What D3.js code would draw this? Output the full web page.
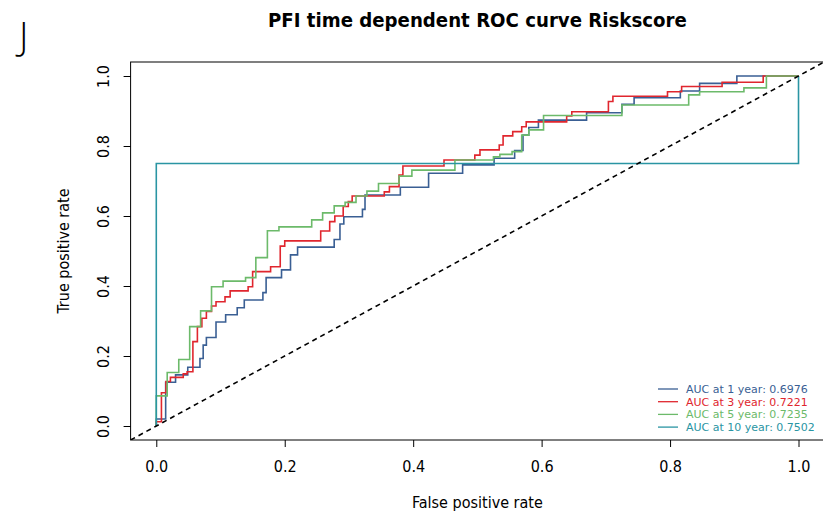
<!DOCTYPE html>
<html>
<head>
<meta charset="utf-8">
<script src="https://cdn.jsdelivr.net/npm/d3@7"></script>
<style>
  body { margin: 0; background: #fff; }
  svg { display: block; }
</style>
</head>
<body>
<svg id="chart" width="823" height="512"></svg>
<script>
// ROC vertices (false positive rate, true positive rate) for each horizon
const fpr1y = [0, 0, 0.0146, 0.030, 0.049, 0.068, 0.073, 0.078, 0.093, 0.108, 0.126, 0.137, 0.166, 0.171, 0.195, 0.209, 0.220, 0.277, 0.286, 0.292, 0.321, 0.325, 0.380, 0.424, 0.477, 0.526, 0.558, 0.571, 0.580, 0.595, 0.670, 0.725, 0.744, 0.816, 0.846, 0.904, 1.0];
const tpr1y = [0, 0.020, 0.125, 0.146, 0.168, 0.193, 0.231, 0.253, 0.297, 0.318, 0.338, 0.360, 0.381, 0.424, 0.446, 0.489, 0.511, 0.533, 0.577, 0.598, 0.619, 0.660, 0.682, 0.722, 0.746, 0.765, 0.787, 0.831, 0.853, 0.874, 0.895, 0.919, 0.938, 0.957, 0.979, 1.0, 1.0];

const fpr3y = [0, 0, 0.008, 0.015, 0.022, 0.042, 0.048, 0.057, 0.064, 0.071, 0.078, 0.086, 0.093, 0.107, 0.115, 0.143, 0.150, 0.178, 0.193, 0.200, 0.256, 0.270, 0.278, 0.291, 0.299, 0.305, 0.355, 0.363, 0.378, 0.384, 0.448, 0.496, 0.504, 0.534, 0.540, 0.555, 0.569, 0.576, 0.639, 0.647, 0.704, 0.711, 0.796, 0.818, 0.881, 0.945, 1.0];
const tpr3y = [0, 0.012, 0.095, 0.127, 0.139, 0.149, 0.155, 0.241, 0.284, 0.308, 0.327, 0.343, 0.355, 0.369, 0.386, 0.398, 0.441, 0.455, 0.514, 0.529, 0.557, 0.584, 0.600, 0.627, 0.641, 0.657, 0.669, 0.684, 0.717, 0.743, 0.760, 0.774, 0.789, 0.803, 0.829, 0.841, 0.855, 0.869, 0.886, 0.898, 0.927, 0.942, 0.955, 0.970, 0.982, 1.0, 1.0];

const fpr5y = [0, 0, 0.017, 0.035, 0.052, 0.069, 0.086, 0.104, 0.139, 0.155, 0.173, 0.191, 0.242, 0.259, 0.277, 0.294, 0.311, 0.328, 0.346, 0.378, 0.398, 0.465, 0.525, 0.535, 0.554, 0.569, 0.580, 0.603, 0.725, 0.829, 0.846, 0.915, 0.950, 1.0];
const tpr5y = [0, 0.086, 0.153, 0.190, 0.284, 0.329, 0.398, 0.414, 0.424, 0.481, 0.558, 0.569, 0.589, 0.609, 0.629, 0.639, 0.657, 0.671, 0.693, 0.714, 0.731, 0.760, 0.769, 0.776, 0.784, 0.831, 0.846, 0.887, 0.917, 0.946, 0.955, 0.966, 1.0, 1.0];

const fpr10y = [0, 0, 1.0, 1.0];
const tpr10y = [0, 0.75, 0.75, 1.0];

const horizons = ["1 year", "3 year", "5 year", "10 year"];
const aucValues = ["0.6976", "0.7221", "0.7235", "0.7502"];
const seriesColors = ["#3A5F94", "#E0262E", "#6CBA6A", "#2A95A3"];
const tickValues = [0, 0.2, 0.4, 0.6, 0.8, 1.0];

const titleText = "PFI time dependent ROC curve Riskscore";
const xLabel = "False positive rate";
const yLabel = "True positive rate";
const panelLetter = "J";

const series = [
  { fpr: fpr1y, tpr: tpr1y },
  { fpr: fpr3y, tpr: tpr3y },
  { fpr: fpr5y, tpr: tpr5y },
  { fpr: fpr10y, tpr: tpr10y }
];

const svg = d3.select("#chart");
const axisFont = "'DejaVu Sans Condensed', 'DejaVu Sans', sans-serif";

// plot region with 4% padding around [0,1] on both axes
const x = d3.scaleLinear().domain([-0.04, 1.04]).range([130.6, 824.2]);
const y = d3.scaleLinear().domain([-0.04, 1.04]).range([440, 62]);

svg.append("defs").append("clipPath").attr("id", "plotClip")
  .append("rect")
  .attr("x", x(-0.04)).attr("y", y(1.04))
  .attr("width", x(1.04) - x(-0.04)).attr("height", y(-0.04) - y(1.04));

const plot = svg.append("g").attr("clip-path", "url(#plotClip)");

const line = d3.line()
  .x(d => x(d[0]))
  .y(d => y(d[1]))
  .curve(d3.curveStepAfter);

series.forEach((s, i) => {
  const pts = s.fpr.map((f, k) => [f, s.tpr[k]]);
  plot.append("path")
    .attr("d", line(pts))
    .attr("fill", "none")
    .attr("stroke", seriesColors[i])
    .attr("stroke-width", 1.6);
});

// reference diagonal
plot.append("line")
  .attr("x1", x(-0.04)).attr("y1", y(-0.04))
  .attr("x2", x(1.04)).attr("y2", y(1.04))
  .attr("stroke", "#000")
  .attr("stroke-width", 1.6)
  .attr("stroke-dasharray", "5,4");

// frame
svg.append("rect")
  .attr("x", x(-0.04)).attr("y", y(1.04))
  .attr("width", x(1.04) - x(-0.04)).attr("height", y(-0.04) - y(1.04))
  .attr("fill", "none").attr("stroke", "#000").attr("stroke-width", 1);

// x axis
const gx = svg.append("g")
  .attr("transform", `translate(0,${y(-0.04)})`)
  .call(d3.axisBottom(x).tickValues(tickValues).tickFormat(d3.format(".1f"))
    .tickSize(7).tickPadding(14));
gx.select(".domain").remove();
gx.selectAll("text").attr("font-family", axisFont).attr("font-size", 16).attr("fill", "#000");

// y axis, labels turned parallel to the axis
const gy = svg.append("g")
  .attr("transform", `translate(${x(-0.04)},0)`)
  .call(d3.axisLeft(y).tickValues(tickValues).tickFormat(d3.format(".1f"))
    .tickSize(7));
gy.select(".domain").remove();
gy.selectAll("text")
  .attr("x", null).attr("dy", null)
  .attr("transform", "translate(-21.5,0) rotate(-90)")
  .attr("text-anchor", "middle")
  .attr("font-family", axisFont).attr("font-size", 16).attr("fill", "#000");

// axis titles
svg.append("text")
  .attr("x", (x(-0.04) + x(1.04)) / 2).attr("y", 508)
  .attr("text-anchor", "middle")
  .attr("font-family", axisFont).attr("font-size", 16)
  .text(xLabel);

svg.append("text")
  .attr("transform", `translate(69,${(y(-0.04) + y(1.04)) / 2}) rotate(-90)`)
  .attr("text-anchor", "middle")
  .attr("font-family", axisFont).attr("font-size", 16)
  .text(yLabel);

// main title
svg.append("text")
  .attr("x", (x(-0.04) + x(1.04)) / 2).attr("y", 27)
  .attr("text-anchor", "middle")
  .attr("font-family", axisFont).attr("font-weight", "bold").attr("font-size", 20.2)
  .text(titleText);

// panel letter
svg.append("text")
  .attr("x", 19).attr("y", 50)
  .attr("font-family", "'Open Sans', 'DejaVu Sans', sans-serif")
  .attr("font-weight", 300).attr("font-size", 38)
  .text(panelLetter);

// legend
const legend = svg.append("g");
horizons.forEach((h, i) => {
  const ly = 389 + i * 12.7;
  legend.append("line")
    .attr("x1", 658).attr("x2", 678).attr("y1", ly).attr("y2", ly)
    .attr("stroke", seriesColors[i]).attr("stroke-width", 1.3);
  legend.append("text")
    .attr("x", 686).attr("y", ly).attr("dy", "0.35em")
    .attr("font-family", "'DejaVu Sans', sans-serif").attr("font-size", 11)
    .attr("fill", seriesColors[i])
    .text(`AUC at ${h}: ${aucValues[i]}`);
});
</script>
</body>
</html>
